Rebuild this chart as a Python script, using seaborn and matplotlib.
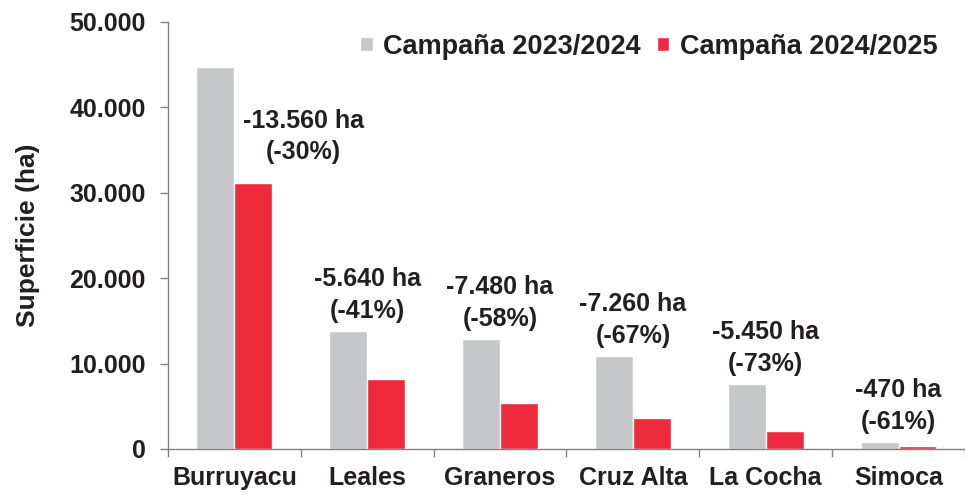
import matplotlib
matplotlib.use("Agg")
import matplotlib.pyplot as plt
import seaborn as sns
import pandas as pd
import numpy as np

departamentos = ["Burruyacu", "Leales", "Graneros", "Cruz Alta", "La Cocha", "Simoca"]
campana_2324 = [44700, 13800, 12880, 10890, 7600, 770]
campana_2425 = [31150, 8160, 5400, 3630, 2150, 300]
etiquetas = ["-13.560 ha\n(-30%)", "-5.640 ha\n(-41%)", "-7.480 ha\n(-58%)",
             "-7.260 ha\n(-67%)", "-5.450 ha\n(-73%)", "-470 ha\n(-61%)"]
series = ["Campaña 2023/2024", "Campaña 2024/2025"]
yticks = [0, 10000, 20000, 30000, 40000, 50000]
ytick_labels = ["0", "10.000", "20.000", "30.000", "40.000", "50.000"]

sns.set_theme(style="white")
plt.rcParams['font.family'] = ['Liberation Sans', 'DejaVu Sans']
plt.rcParams['font.weight'] = 'bold'

df = pd.DataFrame({
    "Departamento": departamentos * 2,
    "Superficie": campana_2324 + campana_2425,
    "Campaña": [series[0]] * len(departamentos) + [series[1]] * len(departamentos),
})

fig = plt.figure(figsize=(9.65, 4.95), dpi=100)
ax = fig.add_axes([0.174, 0.093, 0.826, 0.863])

txt = "#231f20"
sns.barplot(data=df, x="Departamento", y="Superficie", hue="Campaña",
            palette=["#c6c7c9", "#ee2a3d"], width=0.57, saturation=1,
            ax=ax, legend=True)

ax.set_xlim(-0.5, len(departamentos) - 0.5)
ax.set_ylim(0, 50000)
ax.set_yticks(yticks)
ax.set_yticklabels(ytick_labels, fontsize=18, fontweight='bold', color=txt)
ax.set_xticks(range(len(departamentos)))
ax.set_xticklabels(departamentos, fontsize=18, fontweight='bold', color=txt)
ax.set_xticks(np.arange(-0.5, len(departamentos) - 0.4, 1), minor=True)
ax.tick_params(axis='x', which='major', length=0, pad=12)
ax.tick_params(axis='x', which='minor', length=6, width=1, color='#808080', direction='out', bottom=True)
ax.tick_params(axis='y', length=6, width=1, color='#808080', direction='out', left=True, pad=10)
ax.set_xlabel("")
ax.set_ylabel("Superficie (ha)", fontsize=19, fontweight='bold', color=txt, labelpad=21)

for s in ["top", "right"]:
    ax.spines[s].set_visible(False)
for s in ["left", "bottom"]:
    ax.spines[s].set_color('#808080')
    ax.spines[s].set_linewidth(1)

for i, lab in enumerate(etiquetas):
    if i == 0:
        ax.text(0.52, 33300, lab, ha='center', va='bottom', fontsize=18,
                fontweight='bold', color=txt, linespacing=1.4)
    else:
        ax.annotate(lab, xy=(i, campana_2324[i]), xytext=(0, 6), textcoords='offset points',
                    ha='center', va='bottom', fontsize=18, fontweight='bold',
                    color=txt, linespacing=1.4)

leg = ax.legend(loc='upper right', bbox_to_anchor=(0.966, 0.972), ncol=2, frameon=False,
                fontsize=19.5, handlelength=0.45, handleheight=0.45, handletextpad=0.4,
                columnspacing=0.6, borderaxespad=0, borderpad=0)
for t in leg.get_texts():
    t.set_fontweight('bold')
    t.set_color(txt)

fig.savefig("out.png", dpi=100, facecolor='white')
